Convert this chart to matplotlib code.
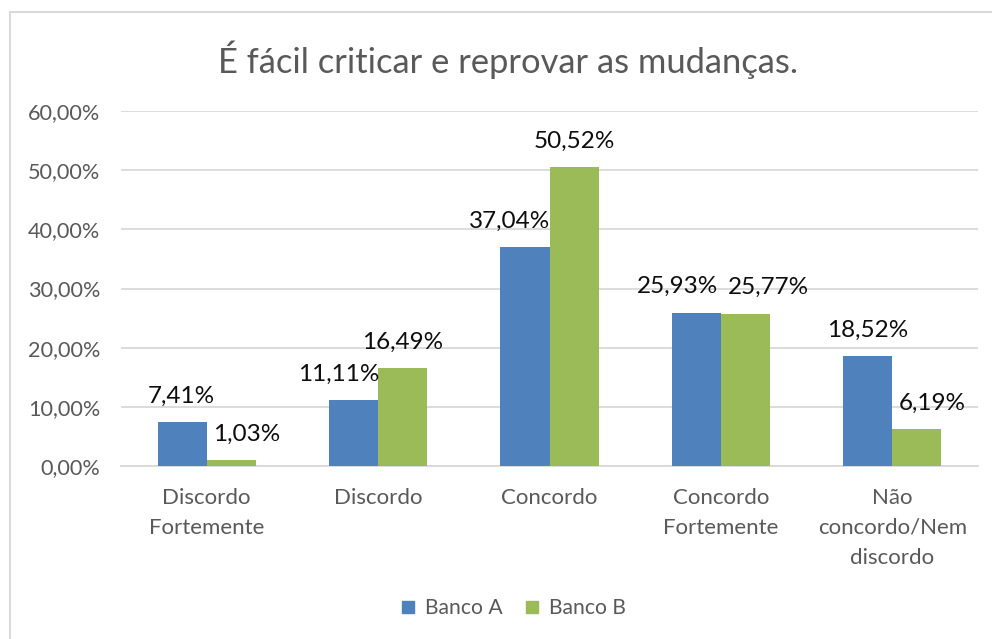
import matplotlib
matplotlib.use("Agg")
import matplotlib.pyplot as plt
from matplotlib.lines import Line2D
from matplotlib.ticker import FuncFormatter
import numpy as np

plt.rcParams['font.family'] = ['Lato', 'DejaVu Sans']

categories = ["Discordo\nFortemente", "Discordo", "Concordo", "Concordo\nFortemente", "Não\nconcordo/Nem\ndiscordo"]
banco_a = [7.41, 11.11, 37.04, 25.93, 18.52]
banco_b = [1.03, 16.49, 50.52, 25.77, 6.19]
series_names = ["Banco A", "Banco B"]
title = "É fácil criticar e reprovar as mudanças."
yticks = [0, 10, 20, 30, 40, 50, 60]

colors = ["#4F81BD", "#9BBB59"]
gray = "#595959"

W, H = 992, 639
fig = plt.figure(figsize=(W / 100, H / 100), dpi=100)
ax = fig.add_axes([121 / W, 1 - 466 / H, (978 - 121) / W, (466 - 111) / H])

x = np.arange(len(categories))
bw = 0.287
bars_a = ax.bar(x - bw / 2, banco_a, bw, color=colors[0], zorder=3)
bars_b = ax.bar(x + bw / 2, banco_b, bw, color=colors[1], zorder=3)

# label horizontal nudges in pixels (layout only)
shift_a = [-1, -15, -15, -19, 0]
shift_b = [15, 0, 0, 23, 15]

def fmt(v):
    return f"{v:.2f}".replace(".", ",") + "%"

for bars, vals, shifts in ((bars_a, banco_a, shift_a), (bars_b, banco_b, shift_b)):
    for b, v, s in zip(bars, vals, shifts):
        ax.annotate(fmt(v), (b.get_x() + b.get_width() / 2, v),
                    xytext=(s * 0.72, 26 * 0.72), textcoords="offset points",
                    ha="center", va="center", fontsize=17.5, color="#0D0D0D", zorder=5)

ax.set_xlim(-0.5, len(categories) - 0.5)
ax.set_ylim(0, 60)
ax.set_yticks(yticks)
ax.yaxis.set_major_formatter(FuncFormatter(lambda v, p: f"{v:.2f}".replace(".", ",") + "%"))
ax.set_xticks(x)
ax.set_xticklabels(categories, fontsize=16, color=gray, linespacing=1.65)
ax.tick_params(axis="y", labelsize=15.6, labelcolor=gray, length=0, pad=15)
ax.tick_params(axis="x", length=0, pad=15.5)
ax.grid(axis="y", color="#D9D9D9", linewidth=1.3, zorder=0)
for sp in ["top", "right", "left"]:
    ax.spines[sp].set_visible(False)
ax.spines["bottom"].set_color("#D9D9D9")
ax.spines["bottom"].set_linewidth(1.3)

fig.text(508 / W, 1 - 60 / H, title, ha="center", va="center", fontsize=24.8, color=gray)

handles = [Line2D([], [], marker="s", linestyle="", markersize=9, color=c) for c in colors]
fig.legend(handles, series_names, loc="center", bbox_to_anchor=(513 / W, 1 - 608 / H), ncol=2,
           frameon=False, fontsize=15.2, labelcolor=gray, handlelength=0.8,
           handletextpad=0.4, columnspacing=1.0)

# chart border (left and top edges visible)
fig.add_artist(Line2D([9.5 / W, 9.5 / W], [0, 1 - 12 / H], color="#D9D9D9", linewidth=1.5))
fig.add_artist(Line2D([9.5 / W, 1], [1 - 12 / H, 1 - 12 / H], color="#D9D9D9", linewidth=1.5))

fig.savefig("out.png", dpi=100)
